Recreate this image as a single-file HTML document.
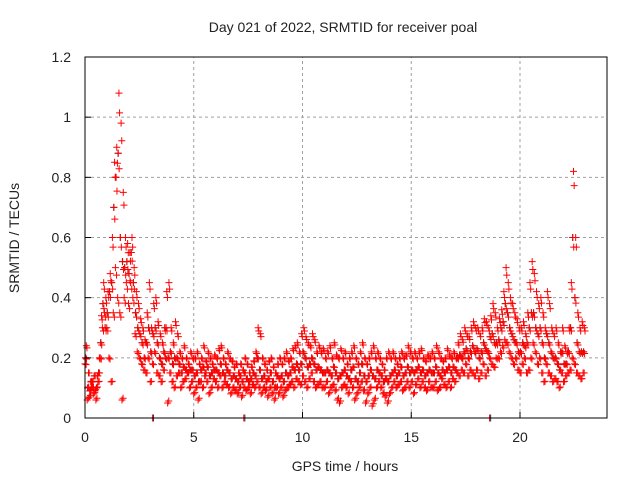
<!DOCTYPE html>
<html><head><meta charset="utf-8"><style>
body{margin:0;background:#fff;}
svg text{font-family:"Liberation Sans",sans-serif;font-size:14px;fill:#222;}
</style></head><body>
<svg id="chart" width="640" height="480" viewBox="0 0 640 480" xmlns="http://www.w3.org/2000/svg">
<rect width="640" height="480" fill="#fff"/>
<text x="343" y="32" text-anchor="middle">Day 021 of 2022, SRMTID for receiver poal</text>
<text x="345" y="471" text-anchor="middle">GPS time / hours</text>
<text transform="translate(19,238) rotate(-90)" text-anchor="middle">SRMTID / TECUs</text>
<g id="grid"></g><g id="marks"></g><g id="axes"></g>
</svg>
<script>
const xTicks=[0,5,10,15,20];
const yTicks=[0,0.2,0.4,0.6,0.8,1,1.2];
const yTickLabels=["0","0.2","0.4","0.6","0.8","1","1.2"];
const valUpper=[.24,.15,.12,.1,.09,.14,.2,.34,.45,.4,
.42,.48,.6,.85,.9,1.08,.98,.75,.6,.58,
.55,.6,.5,.42,.38,.33,.3,.26,.35,.45,
.3,.38,.4,.32,.28,.25,.3,.42,.45,.3,
.25,.32,.28,.22,.2,.24,.2,.18,.22,.2,
.2,.22,.18,.2,.24,.19,.22,.2,.18,.21,
.2,.23,.24,.2,.18,.22,.2,.19,.17,.18,
.15,.18,.16,.2,.18,.15,.17,.19,.22,.3,
.28,.2,.18,.16,.19,.2,.17,.15,.18,.2,
.18,.2,.22,.19,.2,.23,.24,.25,.22,.28,
.3,.27,.25,.24,.28,.26,.22,.24,.22,.23,
.2,.22,.24,.2,.25,.21,.2,.23,.2,.22,
.18,.2,.22,.24,.2,.18,.22,.25,.2,.18,
.2,.22,.24,.2,.22,.2,.18,.16,.2,.22,
.2,.22,.2,.18,.2,.22,.2,.21,.24,.22,
.2,.22,.2,.22,.23,.2,.19,.21,.2,.22,
.2,.24,.22,.2,.19,.2,.23,.21,.2,.22,
.2,.25,.28,.26,.3,.28,.27,.3,.32,.3,
.3,.28,.3,.33,.32,.3,.34,.38,.35,.3,
.33,.36,.42,.5,.45,.4,.38,.35,.33,.3,
.3,.32,.28,.35,.45,.52,.48,.42,.38,.4,
.35,.3,.42,.38,.3,.28,.3,.25,.22,.3,
.24,.22,.3,.45,.82,.6,.35,.3,.32,.3];
const valMid=[.2,.1,.09,.12,.14,.1,.15,.25,.38,.3,
.35,.42,.45,.7,.8,.88,.6,.52,.5,.52,
.48,.55,.45,.35,.3,.28,.25,.2,.25,.3,
.22,.28,.3,.25,.2,.18,.22,.3,.2,.22,
.18,.2,.2,.18,.15,.17,.16,.15,.16,.16,
.14,.15,.12,.16,.17,.15,.17,.14,.15,.16,
.16,.15,.18,.15,.14,.16,.15,.13,.14,.13,
.12,.14,.12,.15,.13,.12,.13,.15,.14,.2,
.16,.13,.14,.12,.13,.15,.12,.1,.14,.13,
.14,.12,.15,.14,.15,.17,.16,.18,.16,.18,
.22,.2,.17,.18,.2,.18,.16,.17,.16,.15,
.15,.16,.15,.14,.17,.15,.13,.14,.15,.16,
.14,.13,.16,.17,.13,.12,.15,.18,.14,.12,
.14,.16,.14,.13,.16,.15,.14,.12,.13,.12,
.14,.15,.16,.14,.15,.17,.14,.15,.17,.15,
.16,.15,.16,.17,.15,.16,.14,.15,.16,.15,
.15,.17,.15,.14,.16,.15,.16,.17,.15,.17,
.16,.2,.21,.2,.22,.23,.2,.22,.24,.22,
.23,.2,.22,.25,.23,.22,.27,.28,.25,.25,
.26,.3,.32,.38,.35,.3,.28,.26,.25,.22,
.22,.25,.24,.25,.3,.35,.35,.3,.28,.3,
.25,.2,.28,.25,.22,.2,.2,.18,.16,.22,
.18,.18,.22,.3,.6,.4,.25,.22,.22,.22];
const valLower=[.18,.06,.07,.1,.08,.06,.12,.2,.3,.35,
.3,.2,.12,.35,.5,.4,.35,.06,.4,.45,
.38,.45,.4,.28,.22,.2,.18,.16,.15,.2,
.12,.18,.22,.15,.14,.12,.16,.2,.05,.15,
.12,.1,.14,.15,.1,.12,.13,.15,.1,.12,
.08,.1,.06,.12,.1,.14,.12,.08,.1,.13,
.12,.1,.14,.1,.12,.11,.1,.08,.1,.09,
.08,.1,.07,.1,.09,.1,.08,.11,.1,.12,
.1,.08,.1,.09,.07,.1,.08,.06,.1,.08,
.1,.07,.09,.1,.11,.12,.1,.13,.12,.11,
.14,.12,.1,.13,.15,.12,.1,.11,.12,.1,
.1,.12,.08,.1,.11,.09,.06,.05,.1,.11,
.1,.08,.12,.1,.06,.08,.1,.12,.09,.05,
.08,.1,.04,.06,.1,.12,.1,.08,.07,.05,
.08,.1,.12,.1,.11,.12,.09,.1,.12,.1,
.12,.08,.11,.13,.1,.12,.1,.09,.12,.1,
.1,.12,.09,.1,.13,.11,.1,.12,.1,.13,
.12,.15,.14,.16,.15,.18,.14,.16,.15,.14,
.16,.13,.15,.18,.14,.16,.2,.18,.17,.2,
.2,.22,.24,.26,.25,.22,.2,.18,.2,.16,
.15,.18,.2,.15,.16,.2,.25,.22,.18,.2,
.15,.12,.18,.15,.14,.12,.13,.12,.1,.15,
.12,.14,.15,.16,.2,.18,.15,.14,.13,.15];
const zeroTimes=[3.1,7.3,18.6];
const X0=85,X1=607,Y0=418,Y1=57;
function xs(t){return X0+(X1-X0)*t/24;}
function ys(v){return Y0-(Y0-Y1)*v/1.2;}
const NS="http://www.w3.org/2000/svg";
const grid=document.getElementById('grid'),marks=document.getElementById('marks'),axes=document.getElementById('axes');
function mk(tag,attrs,parent){const e=document.createElementNS(NS,tag);for(const k in attrs)e.setAttribute(k,attrs[k]);parent.appendChild(e);return e;}
xTicks.forEach(t=>{
 if(t>0){const g=mk('line',{x1:xs(t),x2:xs(t),y1:Y0,y2:Y1,stroke:'#a0a0a0','stroke-dasharray':'3,3'},grid);
 
 }
 const tk=mk('line',{x1:xs(t),x2:xs(t),y1:Y0,y2:Y0-6,stroke:'#000'},axes);
 
 
 const lb=mk('text',{x:xs(t),y:Y0+24,'text-anchor':'middle'},axes);lb.textContent=String(t);
 
 
});
yTicks.forEach((v,i)=>{
 if(v>0&&v<1.2){const g=mk('line',{x1:X0,x2:X1,y1:ys(v),y2:ys(v),stroke:'#a0a0a0','stroke-dasharray':'3,3'},grid);
 
 }
 const tk=mk('line',{x1:X0,x2:X0+6,y1:ys(v),y2:ys(v),stroke:'#000'},axes);
 
 
 const lb=mk('text',{x:X0-14,y:ys(v)+5,'text-anchor':'end'},axes);lb.textContent=yTickLabels[i];
 
 
});
const fr=mk('rect',{x:X0,y:Y1,width:X1-X0,height:Y0-Y1,fill:'none',stroke:'#000'},axes);


function plus(t,v,col,name){
 const x=xs(t),y=ys(v);
 const p=mk('path',{d:`M${x-3.5},${y}H${x+3.5}M${x},${y-3.5}V${y+3.5}`,stroke:col,'stroke-width':1,fill:'none'},marks);
 
 
}
valMid.forEach((v,i)=>plus(i*0.1+0.02,v,'#333','black-point'));
zeroTimes.forEach(t=>plus(t+0.05,0,'#333','black-point'));
[valLower,valMid,valUpper].forEach((arr,k)=>arr.forEach((v,i)=>{
 plus(i*0.1+k*0.03,v,'#f00','red-point');
 plus(i*0.1+0.05+k*0.02,v*0.93+0.01,'#f00','red-point');
}));
zeroTimes.forEach(t=>plus(t,0,'#f00','red-point'));
</script>
</body></html>
